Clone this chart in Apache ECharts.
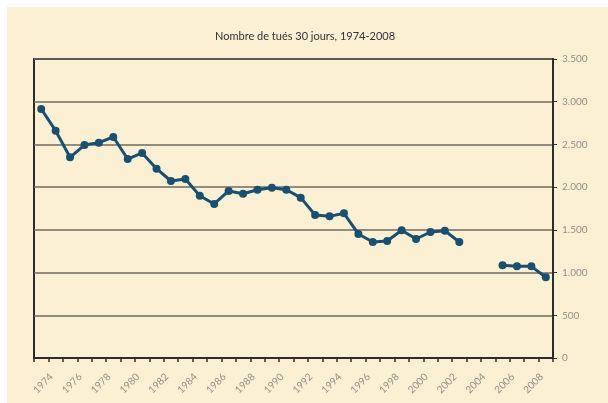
<!DOCTYPE html>
<html>
<head>
<meta charset="utf-8">
<script src="https://cdn.jsdelivr.net/npm/echarts@6/dist/echarts.min.js"></script>
<style>
    html, body { margin: 0; padding: 0; background: #ffffff; }
    #chart { position: absolute; left: 7px; top: 7px; width: 601px; height: 396px; }
</style>
</head>
<body>
<div id="chart"></div>
<script>
// years on the category axis (labels shown for even years only)
const years = []
for (let y = 1973; y <= 2008; y++) years.push(String(y))

// killed within 30 days
const killed = [
    2915, 2661, 2349, 2493, 2521, 2587, 2329, 2400, 2216, 2072,
    2095, 1900, 1803, 1955, 1923, 1970, 1994, 1970, 1877, 1674,
    1658, 1694, 1452, 1358, 1370, 1495, 1393, 1475, 1490, 1358,
    null, null, 1085, 1073, 1073, 945
]

const yTicks = [0, 500, 1000, 1500, 2000, 2500, 3000, 3500]

function formatThousands(v) {
    return String(v).replace(/\B(?=(\d{3})+(?!\d))/g, '.')
}

let myChart = echarts.init(document.getElementById('chart'))

let option = {
    backgroundColor: '#fcf0d4',
    animation: false,
    title: {
        text: 'Nombre de tués 30 jours, 1974-2008',
        left: 293,
        top: 19,
        textAlign: 'center',
        textStyle: {
            color: '#333333',
            fontSize: 11,
            fontWeight: 'normal',
            fontFamily: 'Lato'
        }
    },
    grid: {
        left: 27,
        top: 52,
        right: 55,
        bottom: 45,
        show: true,
        borderColor: '#2e2b28',
        borderWidth: 2,
        backgroundColor: 'transparent'
    },
    xAxis: {
        type: 'category',
        data: years,
        boundaryGap: true,
        axisLine: { lineStyle: { color: '#2e2b28', width: 2 } },
        axisTick: {
            show: true,
            interval: 0,
            length: 4,
            lineStyle: { color: '#2e2b28', width: 1.5 }
        },
        axisLabel: {
            interval: (index) => index % 2 === 1,
            rotate: 45,
            color: '#948e86',
            fontSize: 10,
            fontFamily: 'Lato',
            margin: 13,
            padding: [0, 6, 0, 0]
        }
    },
    yAxis: {
        type: 'value',
        position: 'right',
        min: yTicks[0],
        max: yTicks[yTicks.length - 1],
        interval: 500,
        axisLine: { show: true, lineStyle: { color: '#2e2b28', width: 2 } },
        axisTick: { show: true, length: 4, lineStyle: { color: '#2e2b28' } },
        axisLabel: {
            color: '#948e86',
            fontSize: 10,
            fontFamily: 'Lato',
            margin: 9,
            formatter: (v) => formatThousands(v)
        },
        splitLine: { show: true, lineStyle: { color: '#6e6a64', width: 1.5 } }
    },
    series: [
        {
            name: 'Tués 30 jours',
            type: 'line',
            data: killed,
            connectNulls: false,
            symbol: 'circle',
            symbolSize: 8,
            lineStyle: { color: '#1b4f70', width: 3 },
            itemStyle: { color: '#1b4f70' }
        }
    ]
}

myChart.setOption(option)
</script>
</body>
</html>
